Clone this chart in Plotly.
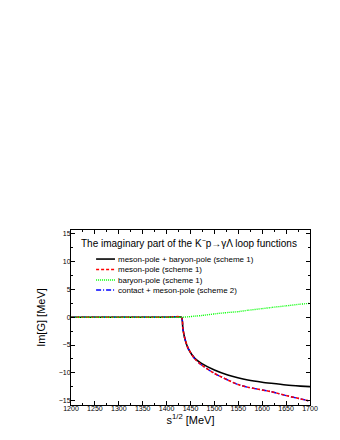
import plotly.graph_objects as go

# sqrt(s) in MeV and Im[G] in MeV
energy = [1200, 1250, 1300, 1350, 1400, 1431, 1434, 1438, 1445, 1459, 1473,
          1500, 1528, 1549, 1570, 1600, 1619, 1650, 1680, 1700]
full_s1 = [0, 0, 0, 0, 0, 0, -2.0, -3.8, -5.6, -7.4, -8.3,
           -9.5, -10.4, -10.9, -11.3, -11.7, -11.9, -12.2, -12.4, -12.5]
meson_s1 = [0, 0, 0, 0, 0, 0, -2.0, -3.8, -5.6, -7.5, -8.6,
            -10.1, -11.3, -12.1, -12.6, -13.1, -13.4, -14.1, -14.7, -15.1]
baryon_s1 = [0, 0, 0, 0, 0, 0, 0.01, 0.03, 0.07, 0.2, 0.3,
             0.6, 0.85, 1.0, 1.25, 1.55, 1.75, 2.05, 2.35, 2.5]
contact_s2 = [0, 0, 0, 0, 0, 0, -2.0, -3.8, -5.6, -7.5, -8.6,
              -10.1, -11.3, -12.1, -12.6, -13.1, -13.4, -14.1, -14.7, -15.1]

names = ["meson-pole + baryon-pole (scheme 1)", "meson-pole (scheme 1)",
         "baryon-pole (scheme 1)", "contact + meson-pole (scheme 2)"]
series = [full_s1, meson_s1, baryon_s1, contact_s2]
colors = ["black", "#ff0000", "#00ff00", "#0000ff"]
dashes = ["solid", "3px,2px", "1px,1px", "5px,2px,1px,2px"]
widths = [1.6, 1.5, 1.4, 1.4]
draw_order = [0, 3, 1, 2]  # blue under red, as in the picture

fig = go.Figure()
for i in draw_order:
    fig.add_trace(go.Scatter(x=energy, y=series[i], mode="lines", name=names[i],
                             line=dict(color=colors[i], dash=dashes[i], width=widths[i],
                                       shape="spline", smoothing=0.6)))

font = "Liberation Sans, Arial, sans-serif"
axis_style = dict(showline=True, linecolor="black", linewidth=1, mirror="allticks",
                  ticks="inside", ticklen=4, tickcolor="black", showgrid=False,
                  zeroline=False, tickfont=dict(family=font, size=7, color="black"))

fig.update_xaxes(range=[1200, 1700], dtick=50, tick0=1200, ticklabelstandoff=-3,
                 minor=dict(ticks="inside", ticklen=2, dtick=25, tickcolor="black"),
                 title=dict(text="s<sup>1/2</sup> [MeV]", font=dict(family=font, size=11, color="black"),
                            standoff=3),
                 **axis_style)
fig.update_yaxes(range=[-15.8, 15.7], dtick=5, tick0=0, ticklabelstandoff=-2,
                 minor=dict(ticks="inside", ticklen=2, dtick=2.5, tickcolor="black"),
                 title=dict(text="Im[G] [MeV]", font=dict(family=font, size=11, color="black"),
                            standoff=10),
                 **axis_style)

# title inside the frame
fig.add_annotation(xref="paper", yref="paper", x=0.035, y=0.926, xanchor="left", yanchor="middle",
                   text="The imaginary part of the K<sup>\u2212</sup>p\u2192\u03b3\u039b loop functions",
                   showarrow=False, font=dict(family=font, size=10, color="black"))

# hand-made legend, rows are tighter than plotly's own legend allows
rows = [0.834, 0.774, 0.714, 0.657]
for nm, c, d, w, yy in zip(names, colors, dashes, widths, rows):
    fig.add_shape(type="line", xref="paper", yref="paper", x0=0.105, x1=0.184, y0=yy, y1=yy,
                  line=dict(color=c, dash=d, width=w))
    fig.add_annotation(xref="paper", yref="paper", x=0.19, y=yy, xanchor="left", yanchor="middle",
                       text=nm, showarrow=False, font=dict(family=font, size=8, color="black"))

fig.update_layout(width=340, height=440, showlegend=False,
                  margin=dict(l=63, r=38, t=222, b=43),
                  paper_bgcolor="white", plot_bgcolor="white")
fig.write_html("out.html")
